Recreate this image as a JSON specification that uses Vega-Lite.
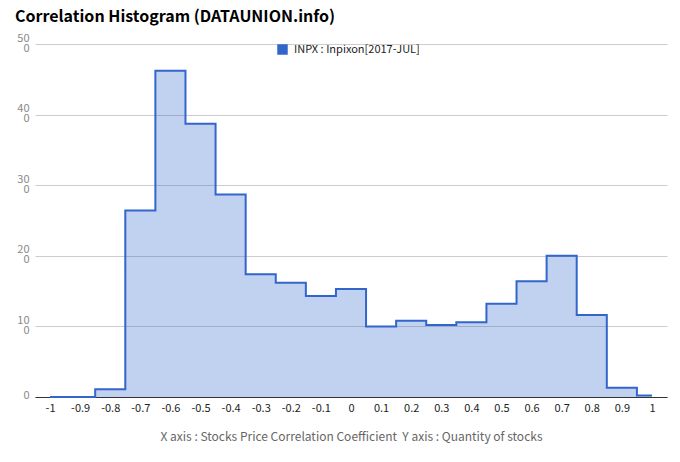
{
  "$schema": "https://vega.github.io/schema/vega-lite/v6.json",
  "autosize": "none",
  "width": 632,
  "height": 353,
  "padding": {"left": 35, "top": 44, "right": 13, "bottom": 65},
  "background": "white",
  "title": {
    "text": "Correlation Histogram (DATAUNION.info)",
    "anchor": "start",
    "frame": "group",
    "orient": "top",
    "dx": -20,
    "dy": 6,
    "offset": 0,
    "baseline": "alphabetic",
    "font": "Noto Sans CJK KR",
    "fontSize": 16,
    "fontWeight": "bold",
    "color": "#000000"
  },
  "config": {
    "view": {"stroke": null},
    "font": "Noto Sans CJK KR"
  },
  "data": {
    "values": [
      {"x": -1.0, "count": 0, "series": "INPX : Inpixon[2017-JUL]"},
      {"x": -0.9, "count": 0, "series": "INPX : Inpixon[2017-JUL]"},
      {"x": -0.8, "count": 11, "series": "INPX : Inpixon[2017-JUL]"},
      {"x": -0.7, "count": 264, "series": "INPX : Inpixon[2017-JUL]"},
      {"x": -0.6, "count": 462, "series": "INPX : Inpixon[2017-JUL]"},
      {"x": -0.5, "count": 387, "series": "INPX : Inpixon[2017-JUL]"},
      {"x": -0.4, "count": 287, "series": "INPX : Inpixon[2017-JUL]"},
      {"x": -0.3, "count": 174, "series": "INPX : Inpixon[2017-JUL]"},
      {"x": -0.2, "count": 162, "series": "INPX : Inpixon[2017-JUL]"},
      {"x": -0.1, "count": 143, "series": "INPX : Inpixon[2017-JUL]"},
      {"x": 0.0, "count": 153, "series": "INPX : Inpixon[2017-JUL]"},
      {"x": 0.1, "count": 100, "series": "INPX : Inpixon[2017-JUL]"},
      {"x": 0.2, "count": 108, "series": "INPX : Inpixon[2017-JUL]"},
      {"x": 0.3, "count": 102, "series": "INPX : Inpixon[2017-JUL]"},
      {"x": 0.4, "count": 106, "series": "INPX : Inpixon[2017-JUL]"},
      {"x": 0.5, "count": 132, "series": "INPX : Inpixon[2017-JUL]"},
      {"x": 0.6, "count": 164, "series": "INPX : Inpixon[2017-JUL]"},
      {"x": 0.7, "count": 200, "series": "INPX : Inpixon[2017-JUL]"},
      {"x": 0.8, "count": 116, "series": "INPX : Inpixon[2017-JUL]"},
      {"x": 0.9, "count": 13, "series": "INPX : Inpixon[2017-JUL]"},
      {"x": 1.0, "count": 2, "series": "INPX : Inpixon[2017-JUL]"}
    ]
  },
  "mark": {
    "type": "area",
    "interpolate": "step",
    "fillOpacity": 0.3,
    "line": {"color": "#3366cc", "strokeWidth": 2}
  },
  "encoding": {
    "x": {
      "field": "x",
      "type": "quantitative",
      "scale": {"domain": [-1.05, 1.05], "nice": false, "zero": false},
      "axis": {
        "values": [-1, -0.9, -0.8, -0.7, -0.6, -0.5, -0.4, -0.3, -0.2, -0.1, 0, 0.1, 0.2, 0.3, 0.4, 0.5, 0.6, 0.7, 0.8, 0.9, 1],
        "labelExpr": "toString(round(datum.value*10)/10)",
        "title": "X axis : Stocks Price Correlation Coefficient\u00a0\u00a0Y axis : Quantity of stocks",
        "titleFontSize": 12,
        "titleFontWeight": "normal",
        "titleColor": "#666666",
        "titlePadding": 18,
        "labelFontSize": 11,
        "labelColor": "#222222",
        "labelPadding": 5,
        "labelFlush": false,
        "labelOverlap": false,
        "ticks": false,
        "grid": false,
        "domainColor": "#333333",
        "domainWidth": 1
      }
    },
    "y": {
      "field": "count",
      "type": "quantitative",
      "scale": {"domain": [0, 500], "nice": false},
      "axis": {
        "values": [0, 100, 200, 300, 400, 500],
        "labelExpr": "datum.value >= 100 ? [slice(datum.label, 0, 2), slice(datum.label, 2)] : datum.label",
        "title": null,
        "labelFontSize": 11,
        "labelLineHeight": 10,
        "labelBaseline": "middle",
        "labelOffset": {"condition": {"test": "datum.value == 0", "value": -2}, "value": -6},
        "labelColor": "#888888",
        "labelPadding": 6,
        "ticks": false,
        "domain": false,
        "grid": true,
        "gridColor": "#cccccc",
        "labelFlush": false
      }
    },
    "color": {
      "field": "series",
      "type": "nominal",
      "scale": {"range": ["#3366cc"]},
      "legend": {
        "orient": "none",
        "legendX": 242,
        "legendY": 0,
        "title": null,
        "symbolType": "square",
        "symbolSize": 110,
        "symbolOpacity": 1,
        "symbolStrokeWidth": 0,
        "labelFontSize": 11,
        "labelColor": "#222222",
        "labelOffset": 6
      }
    }
  }
}
